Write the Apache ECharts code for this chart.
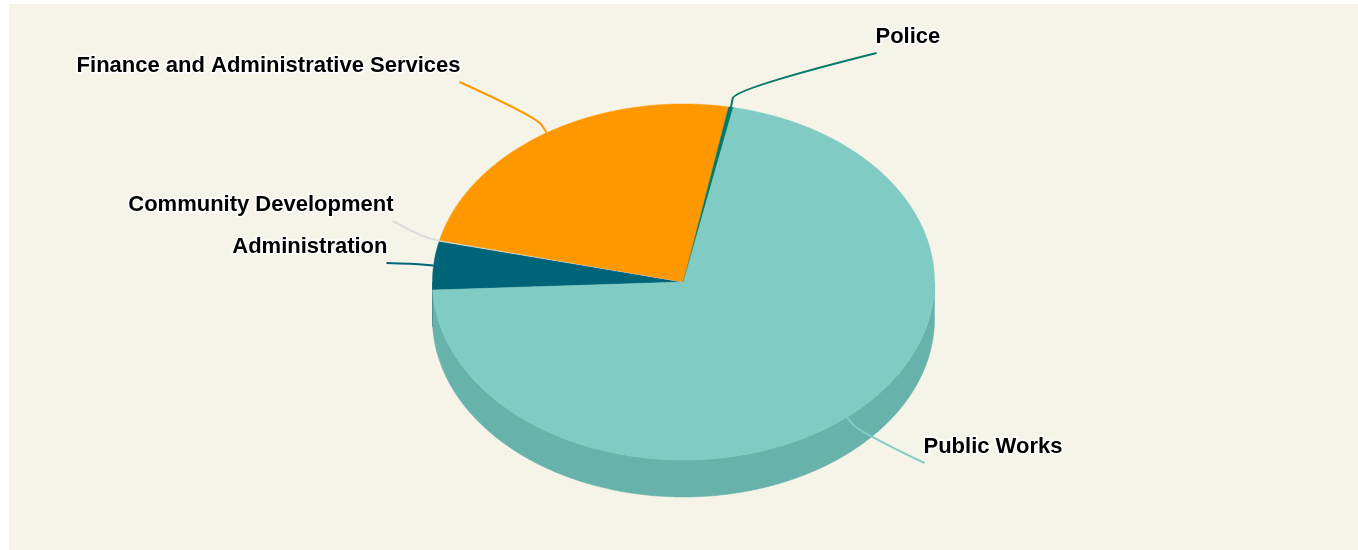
<!DOCTYPE html>
<html>
<head>
<meta charset="utf-8">
<title>Department share</title>
<script src="https://cdn.jsdelivr.net/npm/echarts@6/dist/echarts.min.js"></script>
<style>
  html, body { margin: 0; padding: 0; background: #ffffff; }
  #chart { position: absolute; left: 9px; top: 4px; width: 1349px; height: 546px; }
</style>
</head>
<body>
<div id="chart"></div>
<script>
// Department shares (percent of total), listed in drawing order (clockwise)
const categories = [
  'Administration',
  'Community Development',
  'Finance and Administrative Services',
  'Police',
  'Public Works'
];
const values = [4.4, 0.1, 24.1, 0.3, 71.1];
const colors = ['#006479', '#e0e0e0', '#ff9800', '#00796b', '#80cbc4'];

// Tilted pie geometry (pixels, relative to the chart box)
const pieLayout = {
  centerX: 0.5,     // fraction of width
  centerY: 278,     // px from top
  rx: 251,
  ry: 178,
  depth: 37,
  startAngle: 267.4 // degrees, clockwise from 12 o'clock
};

// Where each leader line ends, relative to the pie center, and text alignment
const labelLayout = {
  'Administration':                      { dx: -297, dy: -19,  align: 'right' },
  'Community Development':                { dx: -291, dy: -61,  align: 'right' },
  'Finance and Administrative Services': { dx: -224, dy: -200, align: 'right' },
  'Police':                              { dx: 193,  dy: -229, align: 'left'  },
  'Public Works':                        { dx: 241,  dy: 181,  align: 'left'  }
};

const total = values.reduce((a, b) => a + b, 0);
const cumulative = [];
values.reduce((acc, v, i) => { cumulative[i] = acc; return acc + v; }, 0);

function brighten(hex, amount) {
  const n = parseInt(hex.slice(1), 16);
  const ch = [(n >> 16) & 255, (n >> 8) & 255, n & 255].map(c =>
    Math.max(0, Math.min(255, Math.round(c + 255 * amount))));
  return 'rgb(' + ch.join(',') + ')';
}

function renderSlice(params, api) {
  const i = params.dataIndex;
  const value = api.value(0);
  const cx = api.getWidth() * pieLayout.centerX;
  const cy = pieLayout.centerY;
  const { rx, ry, depth } = pieLayout;
  const a0 = pieLayout.startAngle + cumulative[i] / total * 360;
  const a1 = a0 + value / total * 360;
  const color = colors[i];

  const pt = (deg, dy) => {
    const r = deg * Math.PI / 180;
    return [cx + rx * Math.sin(r), cy - ry * Math.cos(r) + (dy || 0)];
  };
  const arc = (s, e, dy) => {
    const steps = Math.max(2, Math.ceil(Math.abs(e - s) / 0.5));
    const out = [];
    for (let k = 0; k <= steps; k++) out.push(pt(s + (e - s) * k / steps, dy));
    return out;
  };

  const children = [];

  // outer wall on the front half of the rim
  for (let k = -1; k <= 1; k++) {
    const lo = 90 + 360 * k, hi = 270 + 360 * k;
    const s = Math.max(a0, lo), e = Math.min(a1, hi);
    if (e > s) {
      const pts = arc(s, e, 0).concat(arc(e, s, depth));
      children.push({
        type: 'polygon',
        z2: 1,
        shape: { points: pts },
        style: { fill: brighten(color, -0.1), stroke: brighten(color, -0.1), lineWidth: 0.5 }
      });
    }
  }

  // top face
  children.push({
    type: 'polygon',
    z2: 5,
    shape: { points: [[cx, cy]].concat(arc(a0, a1, 0)) },
    style: { fill: color, stroke: color, lineWidth: 0.5 }
  });

  // leader line + label
  const mid = (a0 + a1) / 2;
  const mr = mid * Math.PI / 180;
  const anchor = pt(mid, 0);
  const dir = [Math.sin(mr), -Math.cos(mr)];
  const b = [anchor[0] + dir[0] * 9, anchor[1] + dir[1] * 9];
  const c = [b[0] + dir[0] * 10, b[1] + dir[1] * 10];
  const lay = labelLayout[categories[i]];
  const end = [cx + lay.dx, cy + lay.dy];
  const lineColor = i === 1 ? '#dcdcdc' : color;
  children.push({
    type: 'path',
    z2: 8,
    shape: {
      pathData: 'M' + anchor[0] + ' ' + anchor[1] +
        ' L' + b[0] + ' ' + b[1] +
        ' Q' + c[0] + ' ' + c[1] + ' ' + end[0] + ' ' + end[1]
    },
    style: { fill: 'none', stroke: lineColor, lineWidth: 2 }
  });
  children.push({
    type: 'text',
    z2: 10,
    x: end[0] + (lay.align === 'right' ? 1 : -1),
    y: end[1] - 16,
    style: {
      text: categories[i],
      fill: '#000000',
      font: 'bold 22px "Liberation Sans", Arial, sans-serif',
      align: lay.align,
      verticalAlign: 'middle',
      stroke: '#ffffff',
      lineWidth: 3
    }
  });

  return { type: 'group', children };
}

const chart = echarts.init(document.getElementById('chart'), null, { renderer: 'canvas' });
chart.setOption({
  backgroundColor: '#f6f4e8',
  animation: false,
  series: [{
    type: 'custom',
    coordinateSystem: 'none',
    renderItem: renderSlice,
    data: values.map((v, i) => ({ name: categories[i], value: [v] }))
  }]
});
</script>
</body>
</html>
